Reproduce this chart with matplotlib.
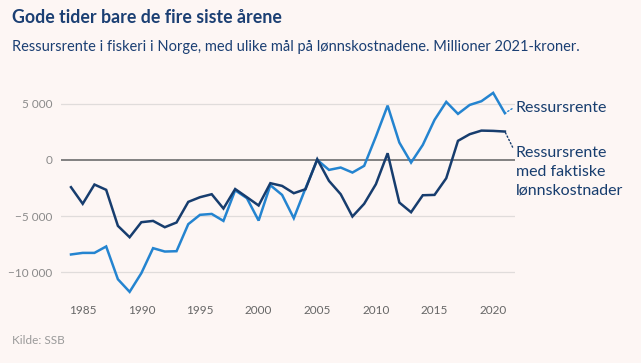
import matplotlib
matplotlib.use("Agg")
import matplotlib.pyplot as plt
from matplotlib.ticker import FuncFormatter

years = list(range(1984, 2022))

# Ressursrente
ressursrente = [-8400, -8260, -8260, -7690, -10600, -11720, -10060, -7840, -8140, -8110,
                -5710, -4880, -4800, -5420, -2700, -3400, -5390, -2250, -3110, -5180,
                -2520, 0, -890, -680, -1125, -530, 2070, 4820, 1540, -240,
                1330, 3550, 5150, 4085, 4880, 5210, 5950, 4145]

# Ressursrente med faktiske lønnskostnader
faktiske = [-2425, -3900, -2190, -2660, -5860, -6870, -5535, -5420, -5980, -5560,
            -3730, -3315, -3050, -4320, -2590, -3315, -4050, -2070, -2310, -2960,
            -2605, 60, -1865, -3050, -5030, -3900, -2160, 590, -3790, -4650,
            -3140, -3110, -1630, 1690, 2280, 2600, 2575, 2515]

xticks = [1985, 1990, 1995, 2000, 2005, 2010, 2015, 2020]
yticks = [-10000, -5000, 0, 5000]

bg = "#fdf6f4"
navy = "#173d6e"
light = "#2484d0"
font = "Lato"

fig = plt.figure(figsize=(6.41, 3.63), dpi=100, facecolor=bg)
ax = fig.add_axes([0.0952, 0.178, 0.708, 0.577], facecolor=bg)

ax.plot(years, ressursrente, color=light, lw=1.8, solid_joinstyle="miter", zorder=3)
ax.plot(years, faktiske, color=navy, lw=1.8, solid_joinstyle="miter", zorder=4)

ax.set_xlim(1983.15, 2021.85)
ax.set_ylim(-12300, 6300)

for y in yticks:
    if y == 0:
        ax.axhline(0, color="#777777", lw=1.3, zorder=2)
    else:
        ax.axhline(y, color="#e0dcdb", lw=0.9, zorder=1)

ax.set_xticks(xticks)
ax.set_yticks(yticks)
ax.yaxis.set_major_formatter(FuncFormatter(lambda v, p: f"{int(v):,}".replace(",", " ").replace("-", "\u2212")))
ax.tick_params(axis="both", length=0, labelsize=8.5, labelcolor="#666666")
ax.tick_params(axis="y", pad=6, labelcolor="#8a8a8a")
ax.tick_params(axis="x", pad=5)
for lab in ax.get_xticklabels() + ax.get_yticklabels():
    lab.set_family(font)
for s in ax.spines.values():
    s.set_visible(False)

ax.annotate("Ressursrente", xy=(years[-1], ressursrente[-1]), xytext=(8, 4),
            textcoords="offset points", ha="left", va="center", color=navy,
            fontsize=11.5, family=font, annotation_clip=False,
            arrowprops=dict(arrowstyle="-", color=light, lw=1, linestyle=":",
                            shrinkA=1, shrinkB=0, relpos=(0, 0.6)))
ax.annotate("Ressursrente\nmed faktiske\nlønnskostnader", xy=(years[-1], faktiske[-1]),
            xytext=(8, -29), textcoords="offset points", ha="left", va="center",
            color=navy, fontsize=11.5, family=font, linespacing=1.4,
            annotation_clip=False,
            arrowprops=dict(arrowstyle="-", color=navy, lw=1, linestyle=":",
                            shrinkA=1, shrinkB=0, relpos=(0, 0.85)))

fig.text(0.018, 0.952, "Gode tider bare de fire siste årene", fontsize=12.8,
         fontweight="bold", color="#1b3f73", family=font, va="center")
fig.text(0.018, 0.870, "Ressursrente i fiskeri i Norge, med ulike mål på lønnskostnadene. Millioner 2021-kroner.",
         fontsize=10.5, color="#1b3f73", family=font, va="center")
fig.text(0.018, 0.063, "Kilde: SSB", fontsize=8.5, color="#9a9a9a", family=font, va="center")

fig.savefig("out.png", dpi=100, facecolor=bg)
